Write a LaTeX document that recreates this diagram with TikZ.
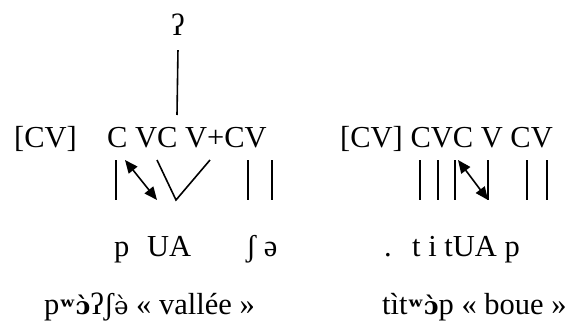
\documentclass[tikz,border=0pt]{standalone}
\usepackage{fontspec}
\setmainfont{Liberation Serif}
\newfontfamily\ipafont[Scale=0.8]{DejaVu Serif}
\usetikzlibrary{arrows.meta, positioning}
\tikzset{
  seg/.style={anchor=base west, inner sep=0pt, font=\fontsize{30.5}{36}\selectfont},
  bar/.style={line width=1.6pt},
  link/.style={bar, {Triangle[length=13pt,width=11pt]}-{Triangle[length=13pt,width=11pt]}},
}
\newcommand{\rnd}{{\ipafont\bfseries ʷɔ̀}}
\newcommand{\schwa}{{\ipafont ə̀}}

\begin{document}
\begin{tikzpicture}[x=1pt, y=-1pt]
  \useasboundingbox (0,0) rectangle (576,327);

  % left form
  \node[seg] (glot) at (171,35) {ʔ};
  \node[seg] (cvL) at (14,147) {[CV]};
  \node[seg] (skelL) at (107,147) {C VC V+CV};
  \node[seg] (pL) at (114,256) {p};
  \node[seg] (uaL) at (147,256) {UA};
  \node[seg] (shL) at (246,256) {ʃ ə};
  \node[seg] (wordL) at (44,314) {p\rnd ʔʃ\schwa{} « vallée »};

  % right form
  \node[seg] (skelR) at (340,147) {[CV] CVC V CV};
  \node[seg] (dotR) at (384,256) {.};
  \node[seg] (segR) at (412,256) {t i tUA p};
  \node[seg] (wordR) at (382,314) {tìt\rnd p « boue »};

  % association lines
  \coordinate (joint) at (177,115);
  \draw[bar] ([yshift=-15pt]glot.south) -- (joint);

  \draw[bar] (116,160) -- (116,200);
  \draw[link] (125,160) -- (157,200);
  \draw[bar] (157,160) -- (176,200) -- (210,160);
  \foreach \x in {248,272}
    \draw[bar] (\x,160) -- (\x,200);

  \foreach \x in {420,438,455,488,527,547}
    \draw[bar] (\x,160) -- (\x,200);
  \draw[link] (458,160) -- (488,200);
\end{tikzpicture}
\end{document}
